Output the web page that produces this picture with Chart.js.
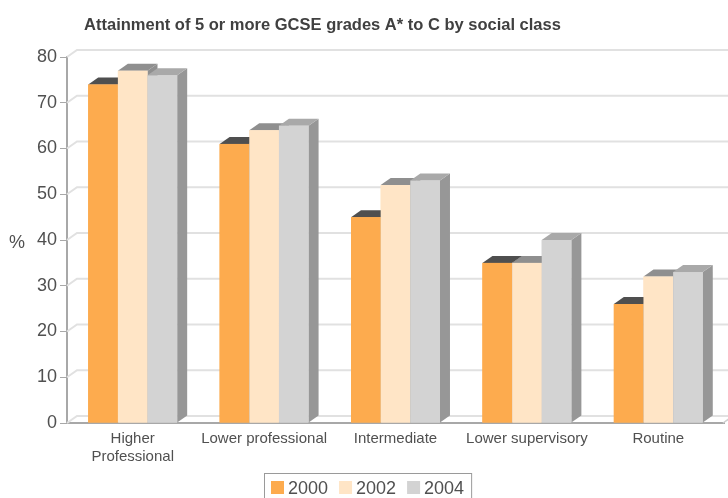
<!DOCTYPE html>
<html>
<head>
<meta charset="utf-8">
<script src="https://cdn.jsdelivr.net/npm/chart.js@4.4.1/dist/chart.umd.min.js"></script>
<style>
  html, body { margin: 0; padding: 0; background: #fff; }
  canvas { display: block; }
</style>
</head>
<body>
<canvas id="chart" width="728" height="498"></canvas>
<script>
// Attainment of 5+ GCSE grades A*-C, by social class (%)
const categories = [['Higher', 'Professional'], 'Lower professional', 'Intermediate', 'Lower supervisory', 'Routine'];
const years = ['2000', '2002', '2004'];
const values2000 = [74, 61, 45, 35, 26];
const values2002 = [77, 64, 52, 35, 32];
const values2004 = [76, 65, 53, 40, 33];
const yTicks = [0, 10, 20, 30, 40, 50, 60, 70, 80];

const FONT = '"Liberation Sans", Arial, Helvetica, sans-serif';
const TEXT = '#505050';

// face colours: front, top, side
const faces = [
  { front: '#fdab4e', top: '#4f4f4f', side: '#4f4f4f' },
  { front: '#ffe5c6', top: '#8f8f8f', side: '#8f8f8f' },
  { front: '#d3d3d3', top: '#a9a9a9', side: '#979797' }
];
const DEPTH_X = 10, DEPTH_Y = -7;

// back wall grid, left wall diagonals and floor
const wallPlugin = {
  id: 'walls',
  beforeDatasetsDraw(chart) {
    const { ctx, chartArea: a, scales: { y } } = chart;
    ctx.save();
    ctx.strokeStyle = '#e1e1e1';
    ctx.lineWidth = 2;
    yTicks.forEach(v => {
      const yf = y.getPixelForValue(v);
      ctx.beginPath();
      ctx.moveTo(a.left, yf);
      ctx.lineTo(a.left + DEPTH_X, yf + DEPTH_Y);
      ctx.lineTo(a.right + DEPTH_X + 20, yf + DEPTH_Y);
      ctx.stroke();
    });
    // floor right edge
    ctx.strokeStyle = '#cfcfcf';
    ctx.lineWidth = 1.5;
    ctx.beginPath();
    ctx.moveTo(a.right - 1, a.bottom);
    ctx.lineTo(a.right + DEPTH_X - 1, a.bottom + DEPTH_Y);
    ctx.stroke();
    ctx.restore();
  },
  // extruded bars, painted left to right so nearer faces cover hidden ones
  afterDatasetsDraw(chart) {
    const { ctx } = chart;
    const metas = chart.data.datasets.map((_, i) => chart.getDatasetMeta(i));
    ctx.save();
    for (let i = 0; i < categories.length; i++) {
      metas.forEach((meta, d) => {
        const el = meta.data[i];
        if (!el) return;
        const { x, y, base, width } = el.getProps(['x', 'y', 'base', 'width'], true);
        const l = x - width / 2, r = x + width / 2;
        const f = faces[d];
        ctx.fillStyle = f.side;
        ctx.beginPath();
        ctx.moveTo(r, y);
        ctx.lineTo(r + DEPTH_X, y + DEPTH_Y);
        ctx.lineTo(r + DEPTH_X, base + DEPTH_Y);
        ctx.lineTo(r, base);
        ctx.closePath();
        ctx.fill();
        ctx.fillStyle = f.top;
        ctx.beginPath();
        ctx.moveTo(l, y);
        ctx.lineTo(r, y);
        ctx.lineTo(r + DEPTH_X, y + DEPTH_Y);
        ctx.lineTo(l + DEPTH_X, y + DEPTH_Y);
        ctx.closePath();
        ctx.fill();
        ctx.fillStyle = f.front;
        ctx.fillRect(l, y, r - l, base - y);
      });
    }
    ctx.restore();
  },
  afterDraw(chart) {
    const { ctx } = chart;
    ctx.save();
    // title
    ctx.fillStyle = '#404040';
    ctx.font = 'bold 16.5px ' + FONT;
    ctx.textAlign = 'center';
    ctx.textBaseline = 'middle';
    ctx.fillText('Attainment of 5 or more GCSE grades A* to C by social class', 322.5, 25);
    // unit label
    ctx.fillStyle = TEXT;
    ctx.font = '18px ' + FONT;
    ctx.textAlign = 'left';
    ctx.fillText('%', 9, 243);
    // legend
    ctx.font = '18px ' + FONT;
    const sq = 13, gapIn = 4, gapOut = 11, padX = 7;
    const items = chart.data.datasets.map((ds, d) => ({ label: ds.label, color: faces[d].front, w: ctx.measureText(ds.label).width }));
    const total = items.reduce((s, it) => s + sq + gapIn + it.w, 0) + gapOut * (items.length - 1) + padX * 2;
    const bx = Math.round(368 - total / 2), by = 473.5;
    ctx.strokeStyle = '#9a9a9a';
    ctx.lineWidth = 1;
    ctx.strokeRect(bx + 0.5, by, total, 40);
    let cx = bx + padX;
    items.forEach(it => {
      ctx.fillStyle = it.color;
      ctx.fillRect(cx, 481, sq, sq);
      cx += sq + gapIn;
      ctx.fillStyle = TEXT;
      ctx.textBaseline = 'alphabetic';
      ctx.fillText(it.label, cx, 494);
      cx += it.w + gapOut;
    });
    ctx.restore();
  }
};

new Chart(document.getElementById('chart'), {
  type: 'bar',
  data: {
    labels: categories,
    datasets: [
      { label: years[0], data: values2000, backgroundColor: faces[0].front },
      { label: years[1], data: values2002, backgroundColor: faces[1].front },
      { label: years[2], data: values2004, backgroundColor: faces[2].front }
    ]
  },
  options: {
    responsive: false,
    devicePixelRatio: 1,
    animation: false,
    categoryPercentage: 0.677,
    barPercentage: 1.0,
    layout: { padding: { top: 57, right: 4, left: 0, bottom: 0 } },
    plugins: {
      legend: { display: false },
      title: { display: false },
      tooltip: { enabled: false }
    },
    scales: {
      x: {
        grid: { display: false },
        border: { display: true, color: '#a8a8a8', width: 2 },
        ticks: {
          color: TEXT,
          font: { family: FONT, size: 15, lineHeight: 1.2 },
          padding: -1,
          maxRotation: 0,
          autoSkip: false
        },
        afterFit(scale) { scale.height = 75; }
      },
      y: {
        min: yTicks[0],
        max: yTicks[yTicks.length - 1],
        grid: { drawOnChartArea: false, drawTicks: true, tickLength: 7, color: '#a8a8a8', lineWidth: 1 },
        border: { display: true, color: '#a8a8a8', width: 2 },
        ticks: {
          stepSize: 10,
          color: TEXT,
          font: { family: FONT, size: 18 },
          padding: 3
        },
        afterFit(scale) { scale.width = 67; }
      }
    }
  },
  plugins: [wallPlugin]
});
</script>
</body>
</html>
